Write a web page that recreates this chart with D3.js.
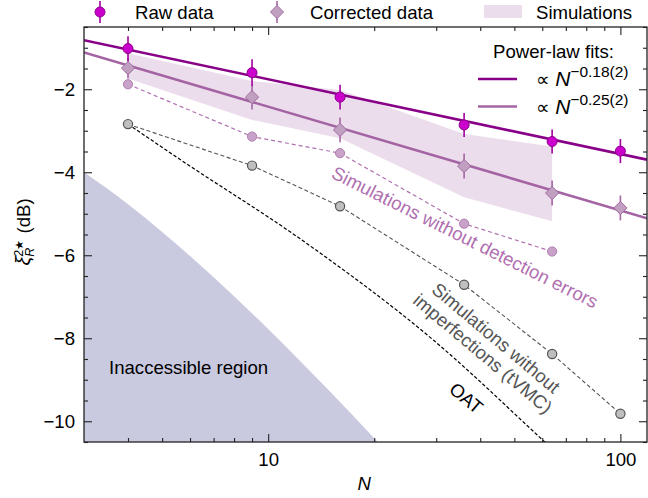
<!DOCTYPE html>
<html>
<head>
<meta charset="utf-8">
<script src="https://cdn.jsdelivr.net/npm/d3@7/dist/d3.min.js"></script>
<style>
  html, body { margin: 0; padding: 0; background: #fff; }
  svg { display: block; font-family: "Liberation Sans", Arial, Helvetica, sans-serif; }
</style>
</head>
<body>
<svg id="chart" width="648" height="498"></svg>
<script>
// ---------------- data ----------------
const N = [4, 9, 16, 36, 64, 100];
const rawData = [-1.02, -1.60, -2.19, -2.86, -3.26, -3.49];
const rawErr = [0.30, 0.32, 0.30, 0.29, 0.29, 0.29];
const corrData = [-1.49, -2.19, -2.98, -3.85, -4.50, -4.86];
const corrErr = [0.25, 0.30, 0.30, 0.30, 0.30, 0.30];

const simN = [4, 9, 16, 36, 64];
const simUpper = [-1.13, -1.80, -2.02, -3.08, -3.38];
const simLower = [-1.74, -2.74, -3.18, -4.60, -5.18];

const noDetN = [4, 9, 16, 36, 64];
const noDetData = [-1.88, -3.14, -3.54, -5.24, -5.91];

const tvmcN = [4, 9, 16, 36, 64, 100];
const tvmcData = [-2.84, -3.84, -4.82, -6.71, -8.38, -9.82];

const oatN = [4, 5.64, 12.5, 29.5, 61, 70];
const oatData = [-2.84, -3.70, -5.64, -8.05, -10.50, -10.97];

const boundN = [3, 4, 5, 6, 8, 10, 12, 15, 20, 25];
const boundData = [-4.00, -4.77, -5.44, -6.02, -6.99, -7.78, -8.45, -9.29, -10.41, -11.30];

const fitExponent = [-0.18, -0.25];
const fitOffsetDb = [0.04, 0.08];
const fitLabels = ["−0.18(2)", "−0.25(2)"];

const yTicksMajor = [-10, -8, -6, -4, -2];
const xTicksMajor = [10, 100];
const xTicksMinor = [4, 5, 6, 7, 8, 9, 20, 30, 40, 50, 60, 70, 80, 90];

// ---------------- layout ----------------
const FS = 18.6;
const margin = {left: 84, top: 27, right: 1, bottom: 56};
const W = 648, H = 498;
const pw = W - margin.left - margin.right;
const ph = H - margin.top - margin.bottom;

const colRaw = "#cc00cc", colRawEdge = "#8a008a", colRawLine = "#880088";
const colCorr = "#c19fc1", colCorrEdge = "#a06ca0", colCorrLine = "#a464a4";
const colBand = "#ecdded";
const colRegion = "#c9c9df";
const colND = "#c9a2c9", colNDEdge = "#b07cb0", colNDLine = "#b070b0";
const colGray = "#bfbfbf", colGrayEdge = "#555555";

const svg = d3.select("#chart");
const x = d3.scaleLog().domain([3, 119]).range([0, pw]);
const y = d3.scaleLinear().domain([-10.5, -0.5]).range([ph, 0]);

const defs = svg.append("defs");
defs.append("clipPath").attr("id", "clip").append("rect").attr("width", pw).attr("height", ph);

const g = svg.append("g").attr("transform", `translate(${margin.left},${margin.top})`);
const plot = g.append("g").attr("clip-path", "url(#clip)");

// inaccessible region
const regionArea = d3.area()
  .x(d => x(d[0])).y0(ph + 5).y1(d => y(d[1]))
  .curve(d3.curveMonotoneX);
plot.append("path")
  .datum(boundN.map((n, i) => [n, boundData[i]]))
  .attr("d", regionArea).attr("fill", colRegion);

// simulation band
const band = d3.area()
  .x(d => x(d.n)).y0(d => y(d.lo)).y1(d => y(d.hi));
plot.append("path")
  .datum(simN.map((n, i) => ({n, lo: simLower[i], hi: simUpper[i]})))
  .attr("d", band).attr("fill", colBand);

// OAT
plot.append("path")
  .datum(oatN.map((n, i) => [n, oatData[i]]))
  .attr("d", d3.line().x(d => x(d[0])).y(d => y(d[1])).curve(d3.curveMonotoneX))
  .attr("fill", "none").attr("stroke", "#000").attr("stroke-width", 1.2)
  .attr("stroke-dasharray", "3.5,2");

// tVMC
const lineXY = d3.line().x(d => x(d[0])).y(d => y(d[1]));
plot.append("path")
  .datum(tvmcN.map((n, i) => [n, tvmcData[i]]))
  .attr("d", lineXY).attr("fill", "none").attr("stroke", colGrayEdge)
  .attr("stroke-width", 1.1).attr("stroke-dasharray", "4,2.5");

// no detection errors
plot.append("path")
  .datum(noDetN.map((n, i) => [n, noDetData[i]]))
  .attr("d", lineXY).attr("fill", "none").attr("stroke", colNDLine)
  .attr("stroke-width", 1.2).attr("stroke-dasharray", "4,3");

// fit lines
const fitCols = [colRawLine, colCorrLine];
fitExponent.forEach((k, i) => {
  const dom = x.domain();
  plot.append("path")
    .datum(dom.map(n => [n, fitOffsetDb[i] + 10 * k * Math.log10(n)]))
    .attr("d", lineXY).attr("fill", "none")
    .attr("stroke", fitCols[i]).attr("stroke-width", 2.6);
});

// markers
plot.selectAll(".gpt").data(tvmcN.map((n, i) => [n, tvmcData[i]])).join("circle")
  .attr("cx", d => x(d[0])).attr("cy", d => y(d[1])).attr("r", 4.6)
  .attr("fill", colGray).attr("stroke", colGrayEdge).attr("stroke-width", 1.2);

plot.selectAll(".ndpt").data(noDetN.map((n, i) => [n, noDetData[i]])).join("circle")
  .attr("cx", d => x(d[0])).attr("cy", d => y(d[1])).attr("r", 4.6)
  .attr("fill", colND).attr("stroke", colNDEdge).attr("stroke-width", 1);

// corrected data
const corr = N.map((n, i) => ({n, v: corrData[i], e: corrErr[i]}));
plot.selectAll(".cerr").data(corr).join("line")
  .attr("x1", d => x(d.n)).attr("x2", d => x(d.n))
  .attr("y1", d => y(d.v + d.e)).attr("y2", d => y(d.v - d.e))
  .attr("stroke", colCorrLine).attr("stroke-width", 1.6);
const dia = s => `M0,${-s}L${s},0L0,${s}L${-s},0Z`;
plot.selectAll(".cpt").data(corr).join("path")
  .attr("transform", d => `translate(${x(d.n)},${y(d.v)})`)
  .attr("d", dia(6.6)).attr("fill", colCorr).attr("stroke", colCorrEdge).attr("stroke-width", 1);

// raw data
const raw = N.map((n, i) => ({n, v: rawData[i], e: rawErr[i]}));
plot.selectAll(".rerr").data(raw).join("line")
  .attr("x1", d => x(d.n)).attr("x2", d => x(d.n))
  .attr("y1", d => y(d.v + d.e)).attr("y2", d => y(d.v - d.e))
  .attr("stroke", "#a000a0").attr("stroke-width", 1.6);
plot.selectAll(".rpt").data(raw).join("circle")
  .attr("cx", d => x(d.n)).attr("cy", d => y(d.v)).attr("r", 5)
  .attr("fill", colRaw).attr("stroke", colRawEdge).attr("stroke-width", 1);

// ---------------- axes ----------------
const fmt = d3.format("d");
function styleAxis(sel) {
  sel.select(".domain").remove();
  sel.selectAll("line").attr("stroke", "#222").attr("stroke-width", 1.1);
  sel.selectAll("text").attr("font-size", FS).attr("fill", "#000")
     .attr("font-family", '"Liberation Sans", Arial, sans-serif');
}
g.append("g").attr("transform", `translate(0,${ph})`)
  .call(d3.axisBottom(x).tickValues(xTicksMajor).tickFormat(fmt).tickSize(-8).tickPadding(11))
  .call(styleAxis);
g.append("g").attr("transform", `translate(0,${ph})`)
  .call(d3.axisBottom(x).tickValues(xTicksMinor).tickFormat("").tickSize(-4))
  .call(styleAxis);
g.append("g")
  .call(d3.axisTop(x).tickValues(xTicksMajor).tickFormat("").tickSize(-8))
  .call(styleAxis);
g.append("g")
  .call(d3.axisTop(x).tickValues(xTicksMinor).tickFormat("").tickSize(-4))
  .call(styleAxis);

const yMinor = d3.range(-10.5, -0.49, 0.5).filter(v => !yTicksMajor.includes(v));
g.append("g")
  .call(d3.axisLeft(y).tickValues(yTicksMajor).tickFormat(d3.format("d")).tickSize(-8).tickPadding(9))
  .call(styleAxis);
g.append("g")
  .call(d3.axisLeft(y).tickValues(yMinor).tickFormat("").tickSize(-4))
  .call(styleAxis);
g.append("g").attr("transform", `translate(${pw},0)`)
  .call(d3.axisRight(y).tickValues(yTicksMajor).tickFormat("").tickSize(-8))
  .call(styleAxis);
g.append("g").attr("transform", `translate(${pw},0)`)
  .call(d3.axisRight(y).tickValues(yMinor).tickFormat("").tickSize(-4))
  .call(styleAxis);

// frame
g.append("rect").attr("width", pw).attr("height", ph)
  .attr("fill", "none").attr("stroke", "#222").attr("stroke-width", 1.3);

// axis labels
svg.append("text").attr("x", margin.left + x(10) + 96).attr("y", 490)
  .attr("text-anchor", "middle").attr("font-size", FS).attr("font-style", "italic").text("N");

const yl = svg.append("g").attr("transform", "translate(30,232) rotate(-90)");
const ylt = yl.append("text").attr("text-anchor", "middle").attr("font-size", FS);
ylt.append("tspan").attr("font-style", "italic").attr("font-size", 20).text("ξ");
ylt.append("tspan").attr("font-size", 12.5).attr("dy", -7).text("2");
ylt.append("tspan").attr("font-size", 11).text("★");
ylt.append("tspan").attr("font-size", 12.5).attr("font-style", "italic").attr("dx", -17).attr("dy", 11).text("R");
ylt.append("tspan").attr("dy", -4).attr("dx", 9).text(" (dB)");

// ---------------- annotations ----------------
g.append("text").attr("x", 25).attr("y", 347).attr("font-size", FS).text("Inaccessible region");

g.append("text")
  .attr("transform", `translate(${462 - margin.left},${243 - margin.top}) rotate(26.5)`)
  .attr("text-anchor", "middle").attr("font-size", FS).attr("fill", colNDLine)
  .text("Simulations without detection errors");

const tv = g.append("text")
  .attr("transform", `translate(${490 - margin.left},${345 - margin.top}) rotate(40)`)
  .attr("text-anchor", "middle").attr("font-size", FS).attr("fill", "#555");
tv.append("tspan").attr("x", 0).attr("dy", "-0.15em").text("Simulations without");
tv.append("tspan").attr("x", 0).attr("dy", "1.1em").text("imperfections (tVMC)");

g.append("text")
  .attr("transform", `translate(${462 - margin.left},${403 - margin.top}) rotate(40)`)
  .attr("text-anchor", "middle").attr("font-size", FS).text("OAT");

// ---------------- legends ----------------
const lg = svg.append("g");
// raw
lg.append("line").attr("x1", 100).attr("x2", 100).attr("y1", 1).attr("y2", 23)
  .attr("stroke", "#a000a0").attr("stroke-width", 1.6);
lg.append("circle").attr("cx", 100).attr("cy", 12).attr("r", 5)
  .attr("fill", colRaw).attr("stroke", colRawEdge);
lg.append("text").attr("x", 135).attr("y", 18.5).attr("font-size", FS).text("Raw data");
// corrected
lg.append("line").attr("x1", 277).attr("x2", 277).attr("y1", 1).attr("y2", 23)
  .attr("stroke", colCorrLine).attr("stroke-width", 1.6);
lg.append("path").attr("transform", "translate(277,12)").attr("d", dia(6.6))
  .attr("fill", colCorr).attr("stroke", colCorrEdge);
lg.append("text").attr("x", 310).attr("y", 18.5).attr("font-size", FS).text("Corrected data");
// simulations
lg.append("rect").attr("x", 484).attr("y", 5).attr("width", 38).attr("height", 13).attr("fill", colBand);
lg.append("text").attr("x", 536).attr("y", 18.5).attr("font-size", FS).text("Simulations");

// power-law fits legend
svg.append("text").attr("x", 493).attr("y", 58).attr("font-size", FS).text("Power-law fits:");
fitExponent.forEach((k, i) => {
  const yy = 79 + i * 27.5;
  svg.append("line").attr("x1", 478).attr("x2", 517).attr("y1", yy).attr("y2", yy)
    .attr("stroke", fitCols[i]).attr("stroke-width", 2.6);
  const t = svg.append("text").attr("x", 536).attr("y", yy + 7).attr("font-size", FS);
  t.append("tspan").text("∝ ");
  t.append("tspan").attr("font-style", "italic").attr("font-size", 21).text("N");
  t.append("tspan").attr("font-size", 15.5).attr("dy", -9).text(fitLabels[i]);
});
</script>
</body>
</html>
